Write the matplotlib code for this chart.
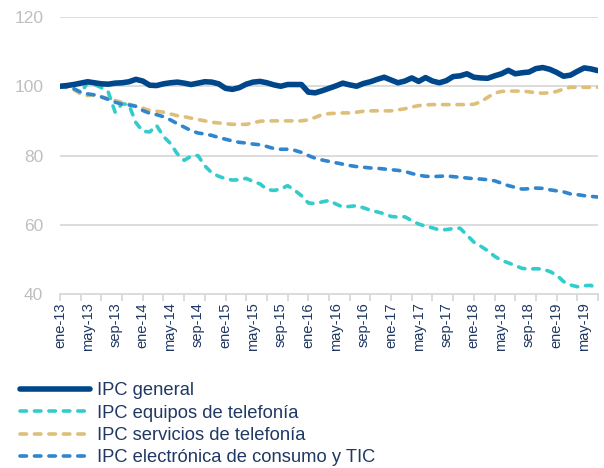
import numpy as np
import matplotlib
matplotlib.use("Agg")
import matplotlib.pyplot as plt
from matplotlib.ticker import FixedLocator

plt.rcParams['font.family'] = ['Liberation Sans', 'DejaVu Sans']

# monthly index, ene-13 .. jul-19
meses = ['ene', 'feb', 'mar', 'abr', 'may', 'jun', 'jul', 'ago', 'sep', 'oct', 'nov', 'dic']
years = ['13', '14', '15', '16', '17', '18', '19']

ipc_general = [100.0, 100.2, 100.5, 100.9, 101.3, 101.0, 100.7, 100.6, 100.9, 101.0,
               101.3, 102.0, 101.5, 100.3, 100.2, 100.7, 101.0, 101.2, 100.9, 100.5,
               100.9, 101.3, 101.2, 100.7, 99.4, 99.1, 99.6, 100.6, 101.2, 101.4,
               101.0, 100.4, 100.0, 100.5, 100.5, 100.5, 98.3, 98.1, 98.7, 99.4,
               100.1, 100.9, 100.4, 100.0, 100.8, 101.3, 102.0, 102.6, 101.8, 101.0,
               101.5, 102.4, 101.4, 102.5, 101.5, 101.0, 101.6, 102.8, 103.0, 103.6,
               102.6, 102.4, 102.3, 103.0, 103.6, 104.6, 103.6, 103.9, 104.1, 105.1,
               105.4, 104.9, 104.0, 102.9, 103.2, 104.3, 105.3, 105.0, 104.5]

ipc_equipos = [100.0, 99.7, 99.3, 98.0, 101.0, 100.5, 99.6, 98.3, 92.5, 95.0,
               94.6, 89.5, 87.0, 86.8, 88.7, 85.5, 83.5, 80.5, 78.6, 79.8,
               80.0, 77.0, 75.0, 74.0, 73.3, 72.9, 73.0, 73.4, 72.5, 71.8,
               70.2, 69.9, 70.3, 71.3, 70.0, 68.4, 66.3, 66.1, 66.6, 67.0,
               66.0, 65.1, 65.3, 65.5, 64.9, 64.2, 63.7, 63.2, 62.4, 62.2,
               62.3, 61.2, 60.2, 59.6, 59.1, 58.5, 58.6, 58.9, 59.0, 57.0,
               55.0, 53.8, 52.5, 50.9, 49.7, 49.0, 48.2, 47.4, 47.2, 47.3,
               47.2, 46.5, 45.5, 43.6, 42.6, 42.1, 42.4, 42.5, 41.1]

ipc_servicios = [100.0, 99.6, 99.0, 97.8, 97.3, 97.5, 97.0, 96.4, 95.9, 95.3,
                 94.8, 94.3, 93.7, 93.0, 92.8, 92.5, 92.0, 91.5, 91.2, 90.8,
                 90.4, 90.0, 89.6, 89.4, 89.2, 89.0, 89.0, 89.0, 89.4, 89.9,
                 90.0, 90.0, 90.0, 90.0, 90.0, 90.0, 90.3, 91.0, 91.8, 92.1,
                 92.2, 92.3, 92.3, 92.5, 92.8, 92.9, 92.9, 92.9, 92.9, 93.2,
                 93.5, 94.0, 94.4, 94.6, 94.7, 94.7, 94.7, 94.7, 94.7, 94.7,
                 94.8, 95.5, 96.8, 98.0, 98.5, 98.6, 98.6, 98.6, 98.4, 98.1,
                 98.0, 98.1, 98.5, 99.2, 99.7, 99.7, 99.7, 99.7, 99.7]

ipc_electronica = [100.0, 99.8, 99.3, 98.3, 97.8, 97.5, 96.9, 96.2, 95.4, 94.8,
                   94.6, 94.2, 93.0, 92.2, 91.8, 91.2, 90.3, 89.2, 88.2, 87.2,
                   86.5, 86.2, 85.8, 85.2, 84.7, 84.2, 83.8, 83.6, 83.3, 83.1,
                   82.6, 82.0, 81.8, 81.8, 81.5, 80.9, 80.0, 79.2, 78.7, 78.3,
                   77.9, 77.5, 77.1, 76.8, 76.6, 76.4, 76.3, 76.1, 75.9, 75.7,
                   75.4, 74.8, 74.3, 74.0, 73.9, 74.0, 74.1, 73.9, 73.7, 73.5,
                   73.3, 73.2, 73.0, 72.7, 72.0, 71.3, 70.8, 70.3, 70.4, 70.6,
                   70.5, 70.1, 69.8, 69.5, 68.9, 68.7, 68.4, 68.2, 68.0]

n = len(ipc_general)
x = np.arange(n)
fechas = [meses[i % 12] + '-' + years[i // 12] for i in range(n)]

c_gen = '#00468A'
c_equ = '#33CCCC'
c_ser = '#DDBF7A'
c_ele = '#2F86CF'
txt = '#1F3864'
grid = '#D9D9D9'

fig = plt.figure(figsize=(6.04, 4.68), dpi=100)
ax = fig.add_axes([60/604, 1-294/468, 538/604, 277/468])

ax.plot(x, ipc_general, color=c_gen, lw=4.0, solid_capstyle='round', label='IPC general', zorder=5)
dash_kw = dict(lw=2.6, dashes=(1.8, 2.2), dash_capstyle='round')
ax.plot(x, ipc_equipos, color=c_equ, label='IPC equipos de telefonía', **dash_kw)
ax.plot(x, ipc_servicios, color=c_ser, label='IPC servicios de telefonía', **dash_kw)
ax.plot(x, ipc_electronica, color=c_ele, label='IPC electrónica de consumo y TIC', **dash_kw)

ax.set_xlim(0, n - 1)
ax.set_ylim(40, 120)
ax.set_yticks([40, 60, 80, 100, 120])
for v in [60, 80, 100, 120]:
    ax.axhline(v, color=grid, lw=1.3, zorder=0)

for s in ['top', 'right', 'left']:
    ax.spines[s].set_visible(False)
ax.spines['bottom'].set_color(grid)
ax.spines['bottom'].set_linewidth(1.3)

ax.xaxis.remove_overlapping_locs = False
ax.set_xticks(x[::4])
ax.set_xticklabels(fechas[::4], rotation=90, fontsize=10.5, color=txt)
ax.xaxis.set_minor_locator(FixedLocator(x[::3]))
ax.tick_params(axis='x', which='major', length=0, pad=6)
ax.tick_params(axis='x', which='minor', length=5, width=1.3, color=grid)
ax.tick_params(axis='y', length=0, labelsize=12.5, labelcolor='#BFBFBF', pad=12)

fig.legend(loc='upper left', bbox_to_anchor=(20/604, 1-382/468), frameon=False,
           fontsize=13.2, handlelength=3.8, handletextpad=0.4, labelspacing=0.3,
           borderpad=0, borderaxespad=0, labelcolor=txt)

fig.savefig('out.png', dpi=100)
